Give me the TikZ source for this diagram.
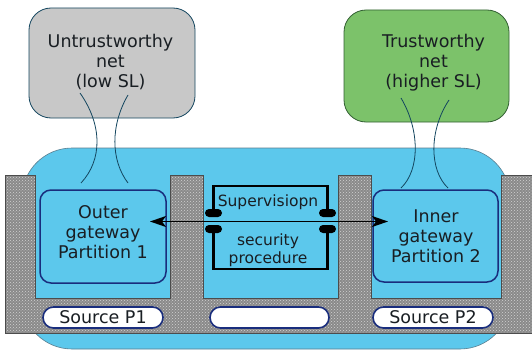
\documentclass[tikz,border=0pt]{standalone}
\usepackage{fontspec}
\setmainfont{DejaVu Sans}
\usetikzlibrary{patterns,arrows.meta}
\definecolor{skyb}{RGB}{92,200,236}
\definecolor{navyb}{RGB}{25,45,125}
\definecolor{netgray}{RGB}{200,200,200}
\definecolor{netgreen}{RGB}{124,194,106}
\definecolor{greenedge}{RGB}{50,95,50}
\definecolor{wire}{RGB}{20,70,95}
\definecolor{stone}{RGB}{138,138,138}
\definecolor{txt}{RGB}{25,30,35}
\tikzset{
  netbox/.style={draw=wire, line width=0.8pt, rounded corners=22pt, inner sep=0pt},
  bigtext/.style={font=\fontsize{17.5}{20}\selectfont, align=center, text=txt, inner sep=0pt},
  smalltext/.style={font=\fontsize{15.5}{18}\selectfont, align=center, text=txt, inner sep=0pt},
  gatebox/.style={draw=navyb, line width=1.5pt, fill=skyb, rounded corners=11pt, inner sep=0pt},
  pill/.style={draw=navyb, line width=1.6pt, fill=white, rounded corners=10.5pt, minimum height=21pt, inner sep=0pt, font=\fontsize{17.5}{20}\selectfont, text=txt},
  blob/.style={fill=black, rounded corners=4pt, minimum width=17pt, minimum height=8pt, inner sep=0pt},
  supline/.style={line width=2.6pt, black},
  wireline/.style={draw=wire, line width=0.8pt},
}
\begin{document}
\begin{tikzpicture}[x=1pt,y=-1pt]
\useasboundingbox (0,0) rectangle (532,350);
% blue base
\draw[fill=skyb, draw=wire!70, line width=0.6pt, rounded corners=50pt] (22,148) rectangle (510,349);
% gray textured frame
\def\framepath{(5,175) -- (35,175) -- (35,298) -- (170,298) -- (170,175) -- (203,175) -- (203,298) -- (338,298) -- (338,175) -- (371,175) -- (371,298) -- (501,298) -- (501,175) -- (532,175) -- (532,333) -- (5,333) -- cycle}
\fill[stone] \framepath;
\fill[pattern=crosshatch dots, pattern color=white!65!gray] \framepath;
\draw[stone!55!black, line width=0.5pt] \framepath;
% gateways
\node[gatebox, minimum width=126pt, minimum height=93pt] (outer) at (103,236.5) {};
\node[bigtext] (outert) at (103,232) {Outer\\gateway\\Partition 1};
\node[gatebox, minimum width=125pt, minimum height=92pt] (inner) at (435.5,236) {};
\node[bigtext] (innert) at (436,236) {Inner\\gateway\\Partition 2};
% sources
\node[pill, minimum width=120pt] (src1) at (103,317.5) {Source P1};
\node[pill, minimum width=119pt] (srcm) at (269.5,317.5) {};
\node[pill, minimum width=120pt] (src2) at (433,317.5) {Source P2};
% supervision
\node[blob] (bul) at (213.5,213) {};
\node[blob] (bur) at (327.5,213) {};
\node[blob] (bll) at (213.5,229) {};
\node[blob] (blr) at (327.5,229) {};
\draw[supline] (bul.center) -- (bul.center |- 0,186) -| (bur.center);
\draw[supline] (bll.center) -- (bll.center |- 0,269) -| (blr.center);
\node[smalltext] (sup) at (268,202) {Supervisiopn};
\node[smalltext] (sec) at (268,250) {security\\procedure};
% arrow
\coordinate (al) at (150,221.5);
\coordinate (ar) at (388,221.5);
\draw[line width=1.4pt, {Stealth[length=16pt,width=11pt,inset=4pt]}-{Stealth[length=16pt,width=11pt,inset=4pt]}] (al) -- (ar);
% nets
\node[netbox, fill=netgray, minimum width=166pt, minimum height=110pt] (untr) at (112,63) {};
\node[bigtext] (untrt) at (110.5,62) {Untrustworthy\\net\\(low SL)};
\node[netbox, fill=netgreen, draw=greenedge, minimum width=165pt, minimum height=112pt] (tr) at (426.5,66) {};
\node[bigtext] (trt) at (433.5,62.5) {Trustworthy\\net\\(higher SL)};
% wires
\coordinate (u1a) at (80,93);  \coordinate (u1b) at (81,183);
\coordinate (u2a) at (128,95); \coordinate (u2b) at (128,183);
\coordinate (t1a) at (401,98); \coordinate (t1b) at (401,188);
\coordinate (t2a) at (449,100); \coordinate (t2b) at (448,188);
\draw[wireline] (u1a) .. controls (102.5,125) and (102.5,160) .. (u1b);
\draw[wireline] (u2a) .. controls (110.5,125) and (110.5,160) .. (u2b);
\draw[wireline] (t1a) .. controls (420,130) and (420,170) .. (t1b);
\draw[wireline] (t2a) .. controls (429,130) and (429,170) .. (t2b);
\end{tikzpicture}
\end{document}
